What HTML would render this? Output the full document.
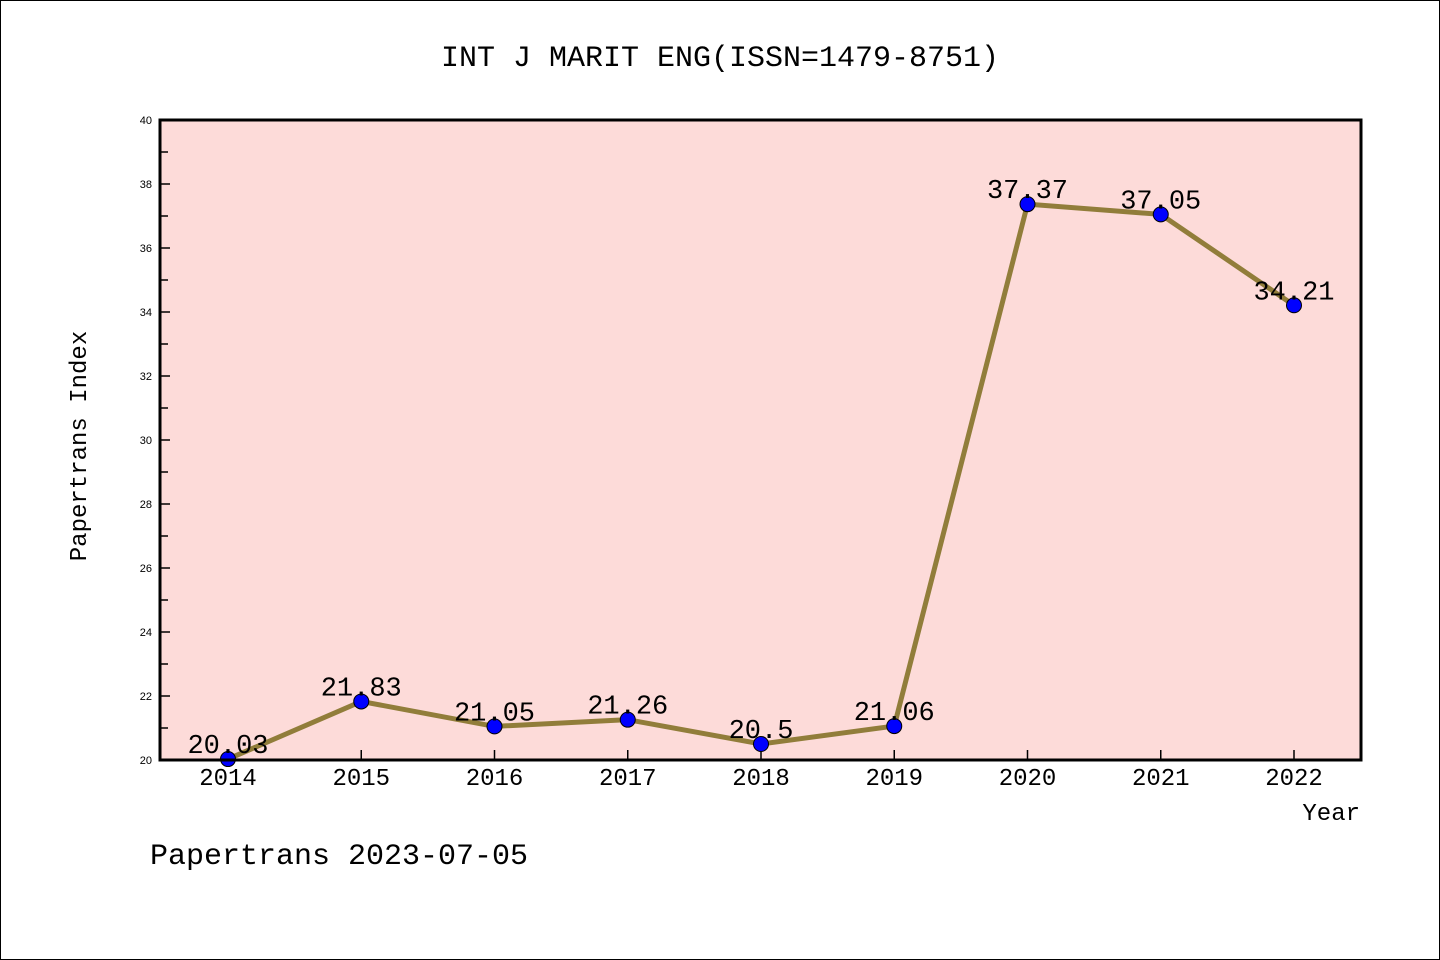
<!DOCTYPE html>
<html><head><meta charset="utf-8"><style>
body{margin:0;background:#fff}
svg{display:block}
text{font-family:"Liberation Mono","DejaVu Sans Mono",monospace;fill:#000}
</style></head><body>
<svg id="chart" width="1440" height="960">
<rect x="0.5" y="0.5" width="1439" height="959" fill="#fff" stroke="#000"/>
<text x="720" y="66" font-size="30" text-anchor="middle">INT J MARIT ENG(ISSN=1479-8751)</text>
<rect x="160" y="120" width="1201" height="640" fill="#fddbd9"/>
<g id="axes"></g>
<g id="series"></g>
<rect x="160" y="120" width="1201" height="640" fill="none" stroke="#000" stroke-width="3"/>
<text x="86" y="446" font-size="24" text-anchor="middle" transform="rotate(-90 86 446)">Papertrans Index</text>
<text x="1360" y="820" font-size="24" text-anchor="end">Year</text>
<text x="150" y="864" font-size="30">Papertrans 2023-07-05</text>
</svg>
<script>
const years=["2014","2015","2016","2017","2018","2019","2020","2021","2022"];
const values=[20.03,21.83,21.05,21.26,20.5,21.06,37.37,37.05,34.21];
const labels=["20.03","21.83","21.05","21.26","20.5","21.06","37.37","37.05","34.21"];
const yTicks=[20,22,24,26,28,30,32,34,36,38,40];
const NS="http://www.w3.org/2000/svg";
const yMin=20,yMax=40,plotTop=120,plotBottom=760;
const xs=i=>228+i*133.25;
const ys=v=>plotBottom-(v-yMin)/(yMax-yMin)*(plotBottom-plotTop);
function mk(t,a,p){const e=document.createElementNS(NS,t);for(const k in a)e.setAttribute(k,a[k]);p.appendChild(e);return e;}
const ax=document.getElementById('axes');
yTicks.forEach(v=>{
 const l=mk('line',{x1:160,x2:170,y1:ys(v),y2:ys(v),stroke:'#000','stroke-width':1.5},ax);
 
 
 const t=mk('text',{x:152,y:ys(v)+4,'font-size':11,'text-anchor':'end',style:'font-family:"Liberation Sans",sans-serif'},ax);
 t.textContent=v;
 
 
 if(v<yMax){const m=mk('line',{x1:160,x2:168,y1:ys(v+1),y2:ys(v+1),stroke:'#000','stroke-width':1.5},ax);
 
 }
});
years.forEach((yr,i)=>{
 const l=mk('line',{x1:xs(i),x2:xs(i),y1:760,y2:750,stroke:'#000','stroke-width':1.5},ax);
 
 
 const t=mk('text',{x:xs(i),y:785,'font-size':24,'text-anchor':'middle'},ax);
 t.textContent=yr;
 
 
});
const s=document.getElementById('series');
const pl=mk('polyline',{points:values.map((v,i)=>xs(i)+','+ys(v)).join(' '),fill:'none',stroke:'#917d3a','stroke-width':5},s);


values.forEach((v,i)=>{
 const c=mk('circle',{cx:xs(i),cy:ys(v),r:7.5,fill:'#0000ff',stroke:'#000','stroke-width':1},s);
 
 
 const t=mk('text',{x:xs(i),y:ys(v)-6,'font-size':27,'text-anchor':'middle'},s);
 t.textContent=labels[i];
 
 
});
</script>
</body></html>
